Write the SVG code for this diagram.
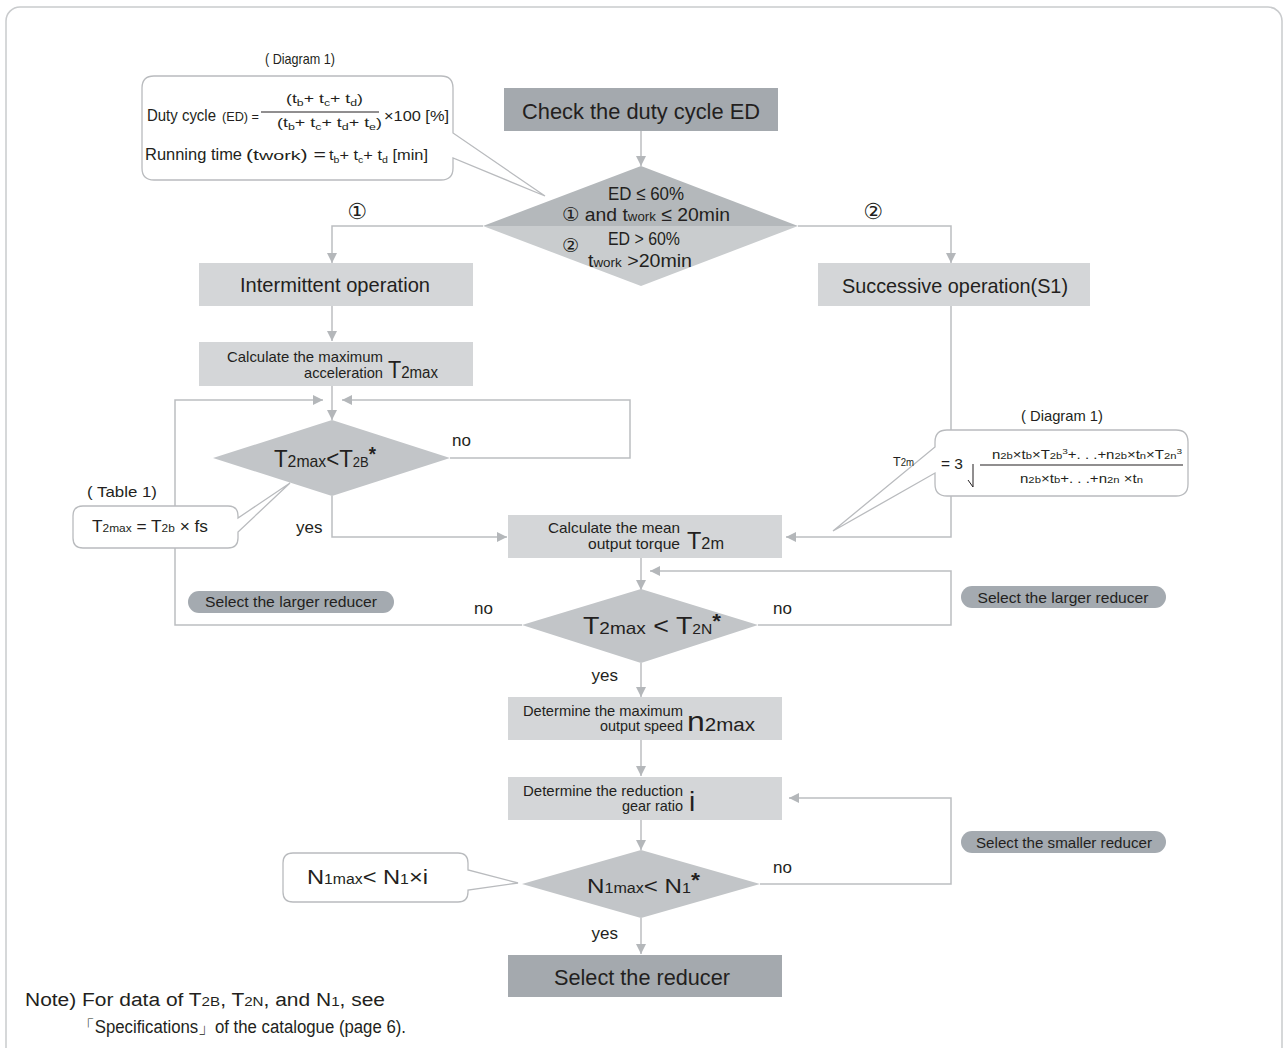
<svg xmlns="http://www.w3.org/2000/svg" width="1286" height="1048" viewBox="0 0 1286 1048">
<defs>
<marker id="ah" viewBox="0 0 10 10" refX="10" refY="5" markerWidth="10" markerHeight="10" markerUnits="userSpaceOnUse" orient="auto"><path d="M0,0 L10,5 L0,10 z" fill="#b4b7ba"/></marker>
<style>
text{font-family:"Liberation Sans",Arial,sans-serif;fill:#231f20}
.c{stroke:#bcbec1;stroke-width:1.5;fill:none}
.a{marker-end:url(#ah)}
.lb{fill:#d4d6d8}
.db{fill:#a4a9ae}
.dm{fill:#c2c5c8}
.pill{fill:#a4aab0}
.co{fill:#fff;stroke:#b9bbbe;stroke-width:1.3}
.circ{font-family:"DejaVu Sans",sans-serif}
</style>
</defs>
<rect x="6" y="7" width="1276" height="1070" rx="14" fill="#fff" stroke="#c9cbcd" stroke-width="1.5"/>

<g id="connectors">
<path class="c a" d="M641,131 V166"/>
<path class="c a" d="M483,226 H332 V263"/>
<path class="c a" d="M798,226 H951 V263"/>
<path class="c a" d="M332,306 V341"/>
<path class="c a" d="M332,386 V420"/>
<path class="c a" d="M522,625 H175 V400 H323"/>
<path class="c a" d="M450,458 H630 V400 H342"/>
<path class="c a" d="M332,496 V537 H507"/>
<path class="c a" d="M951,306 V537 H786"/>
<path class="c a" d="M641,558 V590"/>
<path class="c a" d="M758,625 H951 V571 H650"/>
<path class="c a" d="M641,663 V697"/>
<path class="c a" d="M641,740 V776"/>
<path class="c a" d="M641,819 V850"/>
<path class="c a" d="M760,884 H951 V798 H789"/>
<path class="c a" d="M641,918 V954"/>
</g>

<g id="callout-diagram1">
<text x="300" y="64" font-size="15" text-anchor="middle" textLength="70" lengthAdjust="spacingAndGlyphs">( Diagram 1)</text>
<path class="co" d="M154,76 H441 Q453,76 453,88 V133 L545,196 L453,158 V168 Q453,180 441,180 H154 Q142,180 142,168 V88 Q142,76 154,76 Z"/>
<text x="147" y="121" font-size="17" textLength="69" lengthAdjust="spacingAndGlyphs">Duty cycle</text>
<text x="222" y="121" font-size="13" textLength="37" lengthAdjust="spacingAndGlyphs">(ED) =</text>
<text x="286" y="103" font-size="13" textLength="77" lengthAdjust="spacingAndGlyphs">(t<tspan font-size="9" dy="3">b</tspan><tspan dy="-3">+  t</tspan><tspan font-size="9" dy="3">c</tspan><tspan dy="-3">+  t</tspan><tspan font-size="9" dy="3">d</tspan><tspan dy="-3">)</tspan></text>
<line x1="261" y1="112" x2="379" y2="112" stroke="#231f20" stroke-width="1"/>
<text x="277" y="127" font-size="13" textLength="105" lengthAdjust="spacingAndGlyphs">(t<tspan font-size="9" dy="3">b</tspan><tspan dy="-3">+  t</tspan><tspan font-size="9" dy="3">c</tspan><tspan dy="-3">+  t</tspan><tspan font-size="9" dy="3">d</tspan><tspan dy="-3">+  t</tspan><tspan font-size="9" dy="3">e</tspan><tspan dy="-3">)</tspan></text>
<text x="384" y="121" font-size="15" textLength="65" lengthAdjust="spacingAndGlyphs">×100 [%]</text>
<text x="145" y="160" font-size="17" textLength="97" lengthAdjust="spacingAndGlyphs">Running time</text>
<text x="246" y="160" font-size="14" textLength="80" lengthAdjust="spacingAndGlyphs">(t<tspan font-size="13">work</tspan>) =</text>
<text x="329" y="160" font-size="14" textLength="99" lengthAdjust="spacingAndGlyphs">t<tspan font-size="9" dy="3">b</tspan><tspan dy="-3">+  t</tspan><tspan font-size="9" dy="3">c</tspan><tspan dy="-3">+  t</tspan><tspan font-size="9" dy="3">d</tspan><tspan dy="-3"> [min]</tspan></text>
</g>

<g id="check-ed">
<rect class="db" x="504" y="88" width="274" height="43"/>
<text x="641" y="119" font-size="22" text-anchor="middle" textLength="238" lengthAdjust="spacingAndGlyphs">Check the duty cycle ED</text>
</g>

<g id="decision-ed">
<polygon points="641,166 798,226 483,226" fill="#b4b8bb"/>
<polygon points="483,226 798,226 641,286" fill="#c9ccce"/>
<text x="608" y="200" font-size="19" textLength="76" lengthAdjust="spacingAndGlyphs">ED ≤ 60%</text>
<text x="562" y="221" font-size="19" textLength="168" lengthAdjust="spacingAndGlyphs"><tspan class="circ">①</tspan> and t<tspan font-size="13">work</tspan> ≤ 20min</text>
<text x="562" y="252" font-size="19" class="circ">②</text>
<text x="608" y="245" font-size="19" textLength="72" lengthAdjust="spacingAndGlyphs">ED &gt; 60%</text>
<text x="588" y="267" font-size="19" textLength="104" lengthAdjust="spacingAndGlyphs">t<tspan font-size="13">work</tspan> &gt;20min</text>
</g>

<g id="branch-labels">
<text x="357" y="219" font-size="22" text-anchor="middle" class="circ">①</text>
<text x="873" y="219" font-size="22" text-anchor="middle" class="circ">②</text>
</g>

<g id="intermittent">
<rect class="lb" x="199" y="263" width="274" height="43"/>
<text x="335" y="292" font-size="21" text-anchor="middle" textLength="190" lengthAdjust="spacingAndGlyphs">Intermittent operation</text>
</g>

<g id="successive">
<rect class="lb" x="818" y="263" width="272" height="43"/>
<text x="955" y="293" font-size="21" text-anchor="middle" textLength="226" lengthAdjust="spacingAndGlyphs">Successive operation(S1)</text>
</g>

<g id="calc-max">
<rect class="lb" x="199" y="342" width="274" height="44"/>
<text x="383" y="362" font-size="15" text-anchor="end" textLength="156" lengthAdjust="spacingAndGlyphs">Calculate the maximum</text>
<text x="383" y="378" font-size="15" text-anchor="end" textLength="79" lengthAdjust="spacingAndGlyphs">acceleration</text>
<text x="388" y="378" font-size="23" textLength="50" lengthAdjust="spacingAndGlyphs">T<tspan font-size="16">2max</tspan></text>
</g>

<g id="decision-t2b">
<polygon class="dm" points="332,420 450,458 332,496 213,458"/>
<text x="274" y="467" font-size="24" textLength="102" lengthAdjust="spacingAndGlyphs">T<tspan font-size="17">2max</tspan>&lt;T<tspan font-size="14">2B</tspan><tspan font-weight="bold" font-size="20" dy="-6">*</tspan></text>
<text x="452" y="446" font-size="17">no</text>
<text x="296" y="533" font-size="17">yes</text>
</g>

<g id="callout-table1">
<text x="122" y="497" font-size="15" text-anchor="middle" textLength="70" lengthAdjust="spacingAndGlyphs">( Table 1)</text>
<path class="co" d="M83,506 H228 Q238,506 238,516 V518 L290,483 L238,532 V538 Q238,548 228,548 H83 Q73,548 73,538 V516 Q73,506 83,506 Z"/>
<text x="92" y="532" font-size="16" textLength="116" lengthAdjust="spacingAndGlyphs">T<tspan font-size="11">2max</tspan> = T<tspan font-size="11">2b</tspan> × fs</text>
</g>

<g id="callout-diagram1b">
<text x="1062" y="421" font-size="15" text-anchor="middle" textLength="82" lengthAdjust="spacingAndGlyphs">( Diagram 1)</text>
<path class="co" d="M947,430 H1176 Q1188,430 1188,442 V484 Q1188,496 1176,496 H947 Q935,496 935,484 V473 L833,531 L935,447 V442 Q935,430 947,430 Z"/>
<text x="893" y="466" font-size="13" textLength="21" lengthAdjust="spacingAndGlyphs">T<tspan font-size="10">2m</tspan></text>
<text x="941" y="469" font-size="15" textLength="22" lengthAdjust="spacingAndGlyphs">= 3</text>
<path d="M968,480 L973,487 L973,464" fill="none" stroke="#231f20" stroke-width="1"/>
<line x1="980" y1="465" x2="1183" y2="465" stroke="#231f20" stroke-width="1.2"/>
<text x="992" y="459" font-size="12" textLength="190" lengthAdjust="spacingAndGlyphs">n<tspan font-size="9">2b</tspan>×t<tspan font-size="9">b</tspan>×T<tspan font-size="9">2b</tspan><tspan font-size="8" dy="-5">3</tspan><tspan dy="5">+. . .+n</tspan><tspan font-size="9">2b</tspan>×t<tspan font-size="9">n</tspan>×T<tspan font-size="9">2n</tspan><tspan font-size="8" dy="-5">3</tspan></text>
<text x="1020" y="483" font-size="12" textLength="123" lengthAdjust="spacingAndGlyphs">n<tspan font-size="9">2b</tspan>×t<tspan font-size="9">b</tspan>+. . .+n<tspan font-size="9">2n</tspan> ×t<tspan font-size="9">n</tspan></text>
</g>

<g id="calc-mean">
<rect class="lb" x="508" y="515" width="274" height="43"/>
<text x="680" y="533" font-size="15" text-anchor="end" textLength="132" lengthAdjust="spacingAndGlyphs">Calculate the mean</text>
<text x="680" y="549" font-size="15" text-anchor="end" textLength="92" lengthAdjust="spacingAndGlyphs">output torque</text>
<text x="687" y="549" font-size="23" textLength="37" lengthAdjust="spacingAndGlyphs">T<tspan font-size="16">2m</tspan></text>
</g>

<g id="pill-larger-left">
<rect class="pill" x="188" y="591" width="206" height="22" rx="11"/>
<text x="291" y="607" font-size="15" text-anchor="middle" textLength="172" lengthAdjust="spacingAndGlyphs">Select the larger reducer</text>
</g>

<g id="pill-larger-right">
<rect class="pill" x="961" y="586" width="205" height="22" rx="11"/>
<text x="1063" y="603" font-size="15" text-anchor="middle" textLength="171" lengthAdjust="spacingAndGlyphs">Select the larger reducer</text>
</g>

<g id="decision-t2n">
<polygon class="dm" points="641,589 758,625 641,663 522,625"/>
<text x="583" y="634" font-size="24" textLength="138" lengthAdjust="spacingAndGlyphs">T<tspan font-size="17">2max</tspan> &lt; T<tspan font-size="14">2N</tspan><tspan font-weight="bold" font-size="20" dy="-6">*</tspan></text>
<text x="474" y="614" font-size="17">no</text>
<text x="773" y="614" font-size="17">no</text>
<text x="618" y="681" font-size="17" text-anchor="end">yes</text>
</g>

<g id="n2max">
<rect class="lb" x="508" y="697" width="274" height="43"/>
<text x="683" y="716" font-size="15" text-anchor="end" textLength="160" lengthAdjust="spacingAndGlyphs">Determine the maximum</text>
<text x="683" y="731" font-size="15" text-anchor="end" textLength="83" lengthAdjust="spacingAndGlyphs">output speed</text>
<text x="687" y="731" font-size="28" textLength="68" lengthAdjust="spacingAndGlyphs">n<tspan font-size="18">2max</tspan></text>
</g>

<g id="ratio-i">
<rect class="lb" x="508" y="777" width="274" height="43"/>
<text x="683" y="796" font-size="15" text-anchor="end" textLength="160" lengthAdjust="spacingAndGlyphs">Determine the reduction</text>
<text x="683" y="811" font-size="15" text-anchor="end" textLength="61" lengthAdjust="spacingAndGlyphs">gear ratio</text>
<text x="689" y="811" font-size="28">i</text>
</g>

<g id="pill-smaller">
<rect class="pill" x="961" y="831" width="205" height="22" rx="11"/>
<text x="1064" y="848" font-size="15" text-anchor="middle" textLength="176" lengthAdjust="spacingAndGlyphs">Select the smaller reducer</text>
</g>

<g id="callout-n1">
<path class="co" d="M293,853 H458 Q468,853 468,863 V870 L518,883 L468,890 V892 Q468,902 458,902 H293 Q283,902 283,892 V863 Q283,853 293,853 Z"/>
<text x="307" y="884" font-size="21" textLength="121" lengthAdjust="spacingAndGlyphs">N<tspan font-size="14">1max</tspan>&lt; N<tspan font-size="14">1</tspan>×i</text>
</g>

<g id="decision-n1">
<polygon class="dm" points="641,850 760,884 641,918 522,884"/>
<text x="587" y="893" font-size="21" textLength="113" lengthAdjust="spacingAndGlyphs">N<tspan font-size="14">1max</tspan>&lt; N<tspan font-size="14">1</tspan><tspan font-weight="bold" font-size="20" dy="-6">*</tspan></text>
<text x="773" y="873" font-size="17">no</text>
<text x="618" y="939" font-size="17" text-anchor="end">yes</text>
</g>

<g id="select-reducer">
<rect class="db" x="508" y="955" width="274" height="42"/>
<text x="642" y="985" font-size="22" text-anchor="middle" textLength="176" lengthAdjust="spacingAndGlyphs">Select the reducer</text>
</g>

<g id="note">
<text x="25" y="1006" font-size="18" textLength="360" lengthAdjust="spacingAndGlyphs">Note) For data of T<tspan font-size="13">2B</tspan>, T<tspan font-size="13">2N</tspan>, and N<tspan font-size="13">1</tspan>, see</text>
<text x="78" y="1033" font-size="18" textLength="328" lengthAdjust="spacingAndGlyphs">「Specifications」of the catalogue (page 6).</text>
</g>
</svg>
